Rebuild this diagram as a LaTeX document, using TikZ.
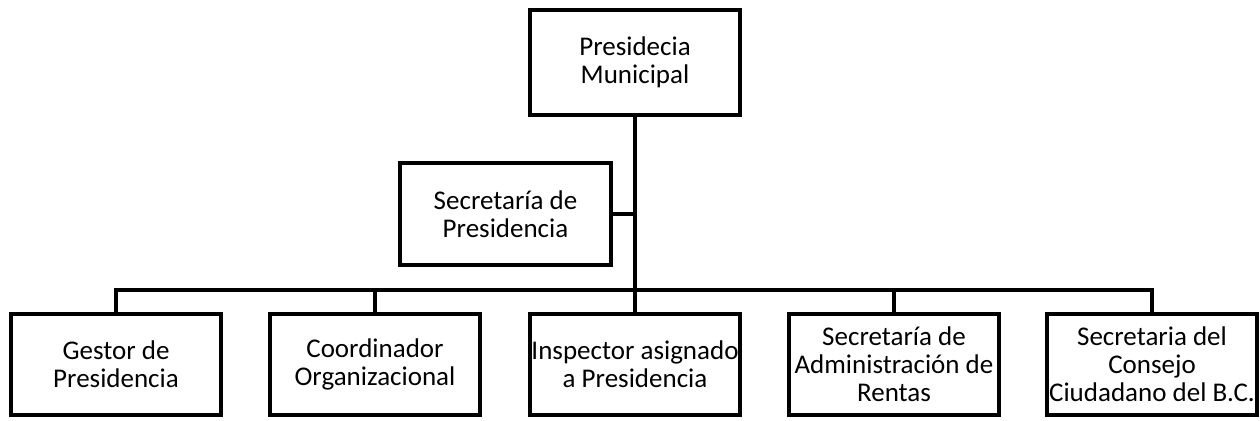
\documentclass[tikz,border=0pt]{standalone}
\usepackage{fontspec}
\setmainfont{Carlito}
\usepackage{tikz}

\begin{document}
\begin{tikzpicture}[x=0.5pt, y=-0.5pt, line width=2pt,
		puesto/.style={draw, rectangle, inner sep=0pt, align=center, minimum width=105pt, font=\fontsize{13.5}{14}\selectfont}]
	\useasboundingbox (0,0) rectangle (1260,420);
	\node[puesto, minimum height=52.5pt] (P0) at (635,62.5) {Presidecia\\Municipal};
	\node[puesto, minimum height=51pt, minimum width=105.5pt] (S0) at (505.5,214) {Secretaría de\\Presidencia};
	\node[puesto, minimum height=50.5pt] (C1) at (116,364.5) {Gestor de\\Presidencia};
	\node[puesto, minimum height=50.5pt] (C2) at (375,364.5) {Coordinador\\Organizacional};
	\node[puesto, minimum height=50.5pt] (C3) at (635,364.5) {Inspector asignado\\a Presidencia};
	\node[puesto, minimum height=50.5pt] (C4) at (894,364.5) {Secretaría de\\Administración de\\Rentas};
	\node[puesto, minimum height=50.5pt] (C5) at (1152,364.5) {Secretaria del\\Consejo\\Ciudadano del B.C.};
	\coordinate (bus) at (635,290);
	\draw (P0.south) -- (C3.north);
	\draw (S0.east) -- (S0.east -| P0.south);
	\draw (C1.north) |- (bus) -| (C5.north);
	\draw (C2.north) -- (C2.north |- bus);
	\draw (C4.north) -- (C4.north |- bus);
\end{tikzpicture}
\end{document}
